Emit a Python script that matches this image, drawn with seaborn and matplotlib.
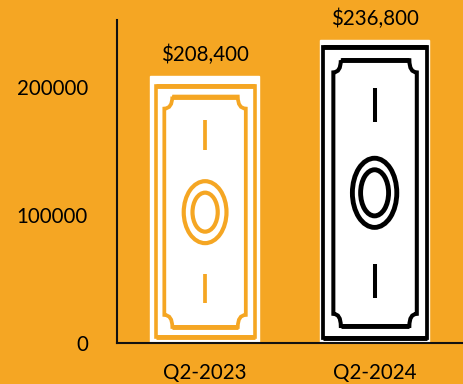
import matplotlib
matplotlib.use("Agg")
import matplotlib.pyplot as plt
import seaborn as sns
from matplotlib.patches import Ellipse, PathPatch, Rectangle
from matplotlib.path import Path

quarters = ["Q2-2023", "Q2-2024"]
amounts = [208400, 236800]
value_labels = ["$208,400", "$236,800"]
ink_colors = ["#F5A623", "#000000"]

BACKGROUND = "#F5A623"

# Banknote artwork per bar, in unit coordinates of the bar rectangle.
note_shapes = [
    dict(frame=(.055, .96, .022, .964), inner=(.133, .876, .06, .923),
         notch=(.073, .045),
         center=(.505, .49), outer=(.39, .232), core=(.23, .146),
         dash_top=(.723, .835), dash_bottom=(.15, .258), frame_lw=2.6, lw=2.7, ring_lw=3.0),
    dict(frame=(.032, .976, .017, .974), inner=(.124, .885, .056, .932),
         notch=(.068, .04),
         center=(.5, .495), outer=(.405, .228), core=(.255, .152),
         dash_top=(.729, .842), dash_bottom=(.149, .261), frame_lw=2.7, lw=2.9, ring_lw=3.5),
]

sns.set_theme(style="white")
plt.rcParams["font.family"] = ["Lato", "DejaVu Sans"]

fig, ax = plt.subplots(figsize=(4.63, 3.84), dpi=100)
fig.patch.set_facecolor(BACKGROUND)
ax.set_facecolor(BACKGROUND)
fig.subplots_adjust(left=117 / 463, right=1.0, top=1 - 20 / 384, bottom=1 - 343 / 384)

sns.barplot(x=quarters, y=amounts, color="white", saturation=1, width=0.645, ax=ax)
ax.set_xlim(-0.515, 1.52)
ax.set_ylim(0, 252100)


def note_outline(inner, notch):
    """Inner border of a banknote, with concave corners."""
    left, right, bottom, top = inner
    dx, dy = notch
    verts = [
        (left + dx, top), (right - dx, top),
        (right - dx, top - dy), (right, top - dy),
        (right, bottom + dy),
        (right - dx, bottom + dy), (right - dx, bottom),
        (left + dx, bottom),
        (left + dx, bottom + dy), (left, bottom + dy),
        (left, top - dy),
        (left + dx, top - dy), (left + dx, top),
    ]
    codes = [Path.MOVETO, Path.LINETO,
             Path.CURVE3, Path.CURVE3,
             Path.LINETO,
             Path.CURVE3, Path.CURVE3,
             Path.LINETO,
             Path.CURVE3, Path.CURVE3,
             Path.LINETO,
             Path.CURVE3, Path.CURVE3]
    return Path(verts, codes)


for bar, ink, shape, label in zip(ax.patches, ink_colors, note_shapes, value_labels):
    unit = bar.get_patch_transform() + ax.transData
    left, right, bottom, top = shape["frame"]
    ax.add_patch(Rectangle((left, bottom), right - left, top - bottom, transform=unit,
                           fill=False, edgecolor=ink, lw=shape["frame_lw"], joinstyle="miter"))
    ax.add_patch(PathPatch(note_outline(shape["inner"], shape["notch"]), transform=unit,
                           fill=False, edgecolor=ink, lw=shape["lw"], joinstyle="miter"))

    # The horizontal edges of the note are printed heavier than the sides.
    in_left, in_right, in_bottom, in_top = shape["inner"]
    dx = shape["notch"][0]
    heavy_edges = [(left, right, top), (left, right, bottom),
                   (in_left + dx, in_right - dx, in_top),
                   (in_left + dx, in_right - dx, in_bottom)]
    for x0, x1, y in heavy_edges:
        ax.plot([x0, x1], [y, y], transform=unit, color=ink, lw=3.5, solid_capstyle="butt")

    cx, cy = shape["center"]
    for width, height in (shape["outer"], shape["core"]):
        ax.add_patch(Ellipse((cx, cy), width, height, transform=unit,
                             fill=False, edgecolor=ink, lw=shape["ring_lw"]))
    for y0, y1 in (shape["dash_top"], shape["dash_bottom"]):
        ax.plot([cx, cx], [y0, y1], transform=unit, color=ink, lw=shape["lw"],
                solid_capstyle="butt")
    ax.annotate(label, (bar.get_x() + bar.get_width() / 2, bar.get_height()),
                xytext=(0, 7.5), textcoords="offset points", ha="center", va="bottom",
                fontsize=14.8, color="#000000", annotation_clip=False)

ax.set_yticks([0, 100000, 200000])
ax.set_yticklabels(["0", "100000", "200000"])
ax.tick_params(axis="y", length=0, pad=21, labelsize=14.8, labelcolor="#000000")
ax.tick_params(axis="x", length=0, pad=14.5, labelsize=14.8, labelcolor="#000000")

sns.despine(ax=ax)
for side in ("left", "bottom"):
    ax.spines[side].set_linewidth(1.5)
    ax.spines[side].set_color("#111111")

fig.savefig("out.png", dpi=100, facecolor=BACKGROUND)
